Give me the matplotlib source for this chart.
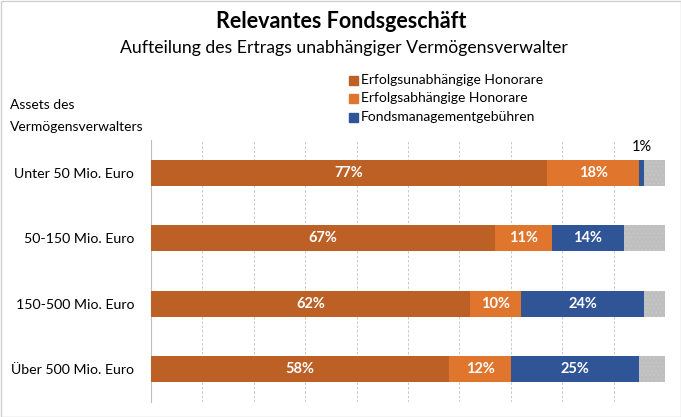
import matplotlib
matplotlib.use("Agg")
import matplotlib.pyplot as plt
import numpy as np

plt.rcParams['font.family'] = ['Lato', 'DejaVu Sans']
plt.rcParams['hatch.color'] = '#d4d4d4'
plt.rcParams['hatch.linewidth'] = 0.6

categories = ["Unter 50 Mio. Euro", "50-150 Mio. Euro", "150-500 Mio. Euro", "Über 500 Mio. Euro"]
series_names = ["Erfolgsunabhängige Honorare", "Erfolgsabhängige Honorare", "Fondsmanagementgebühren"]
erfolgsunabh = [77, 67, 62, 58]
erfolgsabh = [18, 11, 10, 12]
fondsmgmt = [1, 14, 24, 25]
rest = [4, 8, 4, 5]

colors = ["#BC6026", "#E0762E", "#2F5597"]
grey = "#BFBFBF"

W, H = 681, 417
fig = plt.figure(figsize=(W/100, H/100), dpi=100)
ax = fig.add_axes([151/W, 1-402/H, (665-151)/W, (402-140)/H])

y = np.arange(len(categories))
left = np.zeros(len(categories))
bh = 0.4
for vals, col in zip([erfolgsunabh, erfolgsabh, fondsmgmt], colors):
    ax.barh(y, vals, left=left, height=bh, color=col, edgecolor='none', zorder=3)
    for i, v in enumerate(vals):
        if v >= 5:
            ax.text(left[i] + v/2, y[i], f"{v}%", ha='center', va='center',
                    color='white', fontsize=10.5, fontweight='bold', zorder=4)
        else:
            ax.text(left[i] + v/2, y[i] - bh/2 - 0.08, f"{v}%", ha='center', va='bottom',
                    color='black', fontsize=10.5, zorder=4)
    left += np.array(vals)
ax.barh(y, rest, left=left, height=bh, color=grey, edgecolor='#c8c8c8', linewidth=0,
        hatch='....', zorder=3)

ax.set_xlim(0, 100)
ax.set_ylim(3.5, -0.5)
ax.set_xticks(np.arange(0, 101, 10))
ax.xaxis.grid(True, linestyle=(0, (2.5, 2)), color='#c8c8c8', linewidth=0.7, zorder=0)
ax.tick_params(axis='x', length=0, labelbottom=False)
ax.set_yticks(y)
ax.set_yticklabels(categories, fontsize=10.2)
ax.tick_params(axis='y', length=0, pad=12)
for s in ['top', 'right', 'bottom']:
    ax.spines[s].set_visible(False)
ax.spines['left'].set_color('#bfbfbf')
ax.spines['left'].set_linewidth(0.8)

fig.text(341/W, 1-22/H, "Relevantes Fondsgeschäft", ha='center', va='center',
         fontsize=15.5, fontweight='bold')
fig.text(344/W, 1-48/H, "Aufteilung des Ertrags unabhängiger Vermögensverwalter",
         ha='center', va='center', fontsize=12.7)
fig.text(10/W, 1-105/H, "Assets des", ha='left', va='center', fontsize=10)
fig.text(10/W, 1-127/H, "Vermögensverwalters", ha='left', va='center', fontsize=10)

for i, (name, col) in enumerate(zip(series_names, colors)):
    yy = 1 - (80 + i*18.5)/H
    fig.patches.append(plt.Rectangle((349/W, yy - 4.5/H), 9/W, 9/H, transform=fig.transFigure,
                                     color=col, figure=fig))
    fig.text(361/W, yy, name, ha='left', va='center', fontsize=10)

fig.patches.append(plt.Rectangle((0.5/W, 0.5/H), 1-1/W, 1-1/H, transform=fig.transFigure,
                                 fill=False, edgecolor='#d0d0d0', linewidth=1, figure=fig))

fig.savefig("out.png", dpi=100)
